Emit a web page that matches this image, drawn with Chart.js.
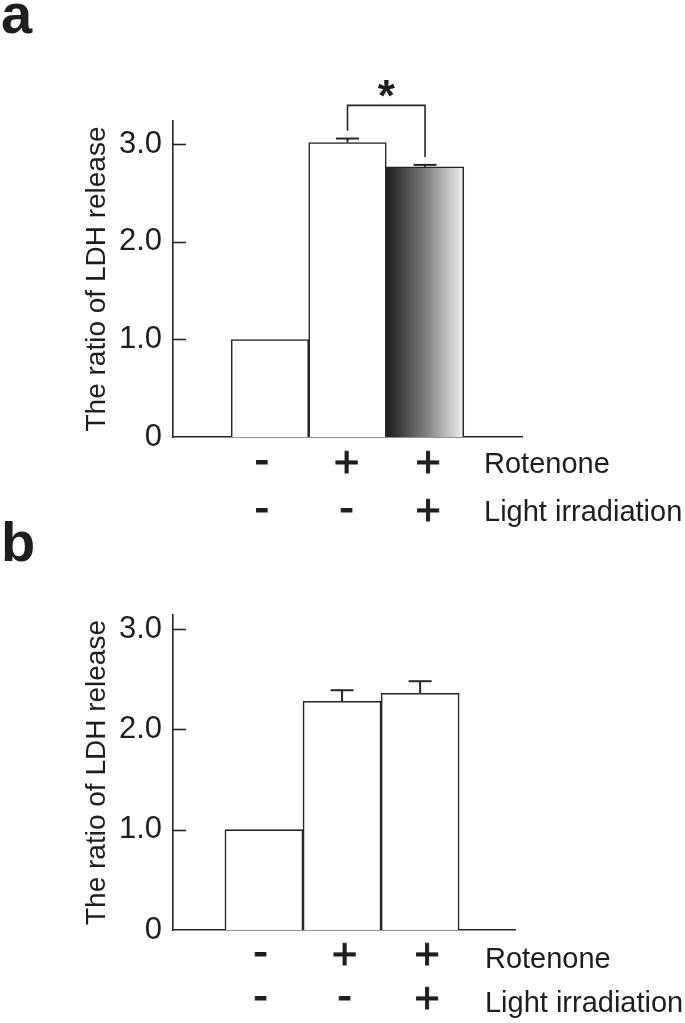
<!DOCTYPE html>
<html><head><meta charset="utf-8">
<script src="https://cdn.jsdelivr.net/npm/chart.js@4/dist/chart.umd.min.js"></script>
<style>
html,body{margin:0;padding:0;background:#fff;width:685px;height:1023px;overflow:hidden}
#wa{position:absolute;left:0;top:0;width:685px;height:540px}
#wb{position:absolute;left:0;top:515px;width:685px;height:508px}
canvas{display:block}
</style></head><body>
<div id="wa"><canvas id="ca" width="685" height="540"></canvas></div>
<div id="wb"><canvas id="cb" width="685" height="508"></canvas></div>
<script>
// ---- data ----
const xPositions = [1, 2, 3];
const rotenone = ['-', '+', '+'];
const lightIrradiation = ['-', '-', '+'];
const rowNames = ['Rotenone', 'Light irradiation'];
const yTicks = [0, 1, 2, 3];
const yTitle = 'The ratio of LDH release';

const valuesA = [1.0, 3.02, 2.77];
const errorsA = [0, 0.04, 0.02];
const fillsA = ['white', 'white', 'gradient'];
const sigA = { from: 2, to: 3, top: 3.40, legBottoms: [3.14, 2.87], mark: '*' };

const valuesB = [1.0, 2.28, 2.36];
const errorsB = [0, 0.11, 0.12];
const fillsB = ['white', 'white', 'white'];

// ---- styling ----
const FONT = 'Liberation Sans';
const INK = '#1e1e1e';
const LINE = '#262626';

function fillFor(c, fills) {
  const f = fills[c.dataIndex];
  if (f !== 'gradient') return f;
  const chart = c.chart, xs = chart.scales.x;
  if (!xs || !chart.chartArea) return '#888';
  const cx = xs.getPixelForValue(xPositions[c.dataIndex]);
  const w = Math.abs(xs.getPixelForValue(xPositions[1]) - xs.getPixelForValue(xPositions[0]));
  const g = chart.ctx.createLinearGradient(cx - w / 2, 0, cx + w / 2, 0);
  g.addColorStop(0, '#1c1c1c');
  g.addColorStop(0.5, '#7c7c7c');
  g.addColorStop(1, '#f2f2f2');
  return g;
}

function centeredText(ctx, text, x, cy, heavy) {
  const m = ctx.measureText(text);
  const base = cy - (m.actualBoundingBoxDescent - m.actualBoundingBoxAscent) / 2;
  ctx.fillText(text, x, base);
  if (heavy) ctx.strokeText(text, x, base);
}

const decorPlugin = {
  id: 'decor',
  afterDatasetsDraw(chart, args, p) {
    const ctx = chart.ctx, xs = chart.scales.x, ys = chart.scales.y, ca = chart.chartArea;
    const meta = chart.getDatasetMeta(0);
    ctx.save();
    ctx.strokeStyle = LINE;
    ctx.lineCap = 'butt';
    // inward y tick marks
    ctx.lineWidth = 1.6;
    yTicks.forEach(v => {
      if (v === 0) return;
      const y = Math.round(ys.getPixelForValue(v)) + 0.5;
      ctx.beginPath(); ctx.moveTo(ca.left, y); ctx.lineTo(ca.left + 13, y); ctx.stroke();
    });
    // error bars
    ctx.lineWidth = 2;
    p.errors.forEach((e, i) => {
      if (!e) return;
      const el = meta.data[i];
      const yTop = ys.getPixelForValue(p.values[i] + e);
      ctx.beginPath(); ctx.moveTo(el.x, el.y); ctx.lineTo(el.x, yTop); ctx.stroke();
      ctx.beginPath(); ctx.moveTo(el.x - 11.5, yTop); ctx.lineTo(el.x + 11.5, yTop); ctx.stroke();
    });
    // significance bracket
    ctx.fillStyle = INK;
    if (p.sig) {
      const s = p.sig;
      const xl = xs.getPixelForValue(s.from), xr = xs.getPixelForValue(s.to);
      const yt = ys.getPixelForValue(s.top);
      ctx.lineWidth = 1.6;
      ctx.beginPath();
      ctx.moveTo(xl, ys.getPixelForValue(s.legBottoms[0]));
      ctx.lineTo(xl, yt); ctx.lineTo(xr, yt);
      ctx.lineTo(xr, ys.getPixelForValue(s.legBottoms[1]));
      ctx.stroke();
      ctx.font = 'bold 44px "' + FONT + '"';
      ctx.textAlign = 'center';
      ctx.textBaseline = 'alphabetic';
      centeredText(ctx, s.mark, (xl + xr) / 2, yt - 17, false);
    }
    // condition table under the x axis
    ctx.textAlign = 'center';
    ctx.textBaseline = 'alphabetic';
    ctx.font = '44px "' + FONT + '"';
    ctx.strokeStyle = INK;
    ctx.lineWidth = 0.9;
    [rotenone, lightIrradiation].forEach((row, r) => {
      const cy = ca.bottom + p.rowFirst + r * p.rowGap;
      row.forEach((g, i) => {
        const x = xs.getPixelForValue(xPositions[i]) + p.colShift[i];
        centeredText(ctx, g, x, cy, true);
      });
    });
    // row names
    ctx.font = '29px "' + FONT + '"';
    ctx.textAlign = 'left';
    const cap = ctx.measureText('H').actualBoundingBoxAscent;
    rowNames.forEach((t, i) => {
      const cy = ca.bottom + p.rowFirst + i * p.rowGap + p.nameShift;
      ctx.fillText(t, xs.getPixelForValue(p.rowLabelX), cy + cap / 2);
    });
    // panel letter
    ctx.font = 'bold 56px "' + FONT + '"';
    ctx.fillText(p.letter, 1, p.letterBase);
    ctx.restore();
  }
};

function makePanel(id, p) {
  const data = xPositions.map((x, i) => ({ x: x, y: p.values[i] }));
  return new Chart(document.getElementById(id), {
    type: 'bar',
    data: { datasets: [{
      data: data,
      backgroundColor: c => fillFor(c, p.fills),
      borderColor: LINE, borderWidth: 1.6, borderSkipped: 'start',
      barPercentage: 1, categoryPercentage: 1
    }] },
    plugins: [decorPlugin],
    options: {
      responsive: false, animation: false, devicePixelRatio: 1,
      layout: { padding: { left: 0, right: p.padRight, top: p.padTop, bottom: 0 } },
      plugins: { legend: { display: false }, tooltip: { enabled: false }, decor: p },
      scales: {
        x: {
          type: 'linear', min: p.xMin, max: p.xMax, offset: false,
          grid: { display: false, drawTicks: false },
          border: { display: true, color: LINE, width: 1.6 },
          afterBuildTicks: s => { s.ticks = xPositions.map(v => ({ value: v })); },
          afterFit: s => { s.height = p.xAxisH; },
          ticks: { display: false }
        },
        y: {
          min: 0, max: p.yMax,
          grid: { display: false, drawTicks: false },
          border: { display: true, color: LINE, width: 1.6 },
          afterBuildTicks: s => { s.ticks = yTicks.map(v => ({ value: v })); },
          afterFit: s => { s.width = 173; },
          ticks: {
            padding: 11, color: INK, font: { family: FONT, size: 31 },
            callback: v => v === 0 ? '0' : v.toFixed(1)
          },
          title: {
            display: true, text: yTitle, color: INK,
            font: { family: FONT, size: 28 }, padding: { top: 80, bottom: 0 }
          }
        }
      }
    }
  });
}

makePanel('ca', {
  values: valuesA, errors: errorsA, fills: fillsA, sig: sigA,
  padTop: 121, padRight: 163, xMin: -0.25, xMax: 4.25, yMax: 3.24,
  xAxisH: 103, rowFirst: 25, rowGap: 48, colShift: [-8, -1, 3], nameShift: 1,
  rowLabelX: 3.76, letter: 'a', letterBase: 33
});
makePanel('cb', {
  values: valuesB, errors: errorsB, fills: fillsB, sig: null,
  padTop: 100, padRight: 170, xMin: -0.165, xMax: 4.215, yMax: 3.14,
  xAxisH: 93, rowFirst: 24, rowGap: 44, colShift: [-3.5, 2.5, 7], nameShift: 4,
  rowLabelX: 3.83, letter: 'b', letterBase: 46
});
</script>
</body></html>
